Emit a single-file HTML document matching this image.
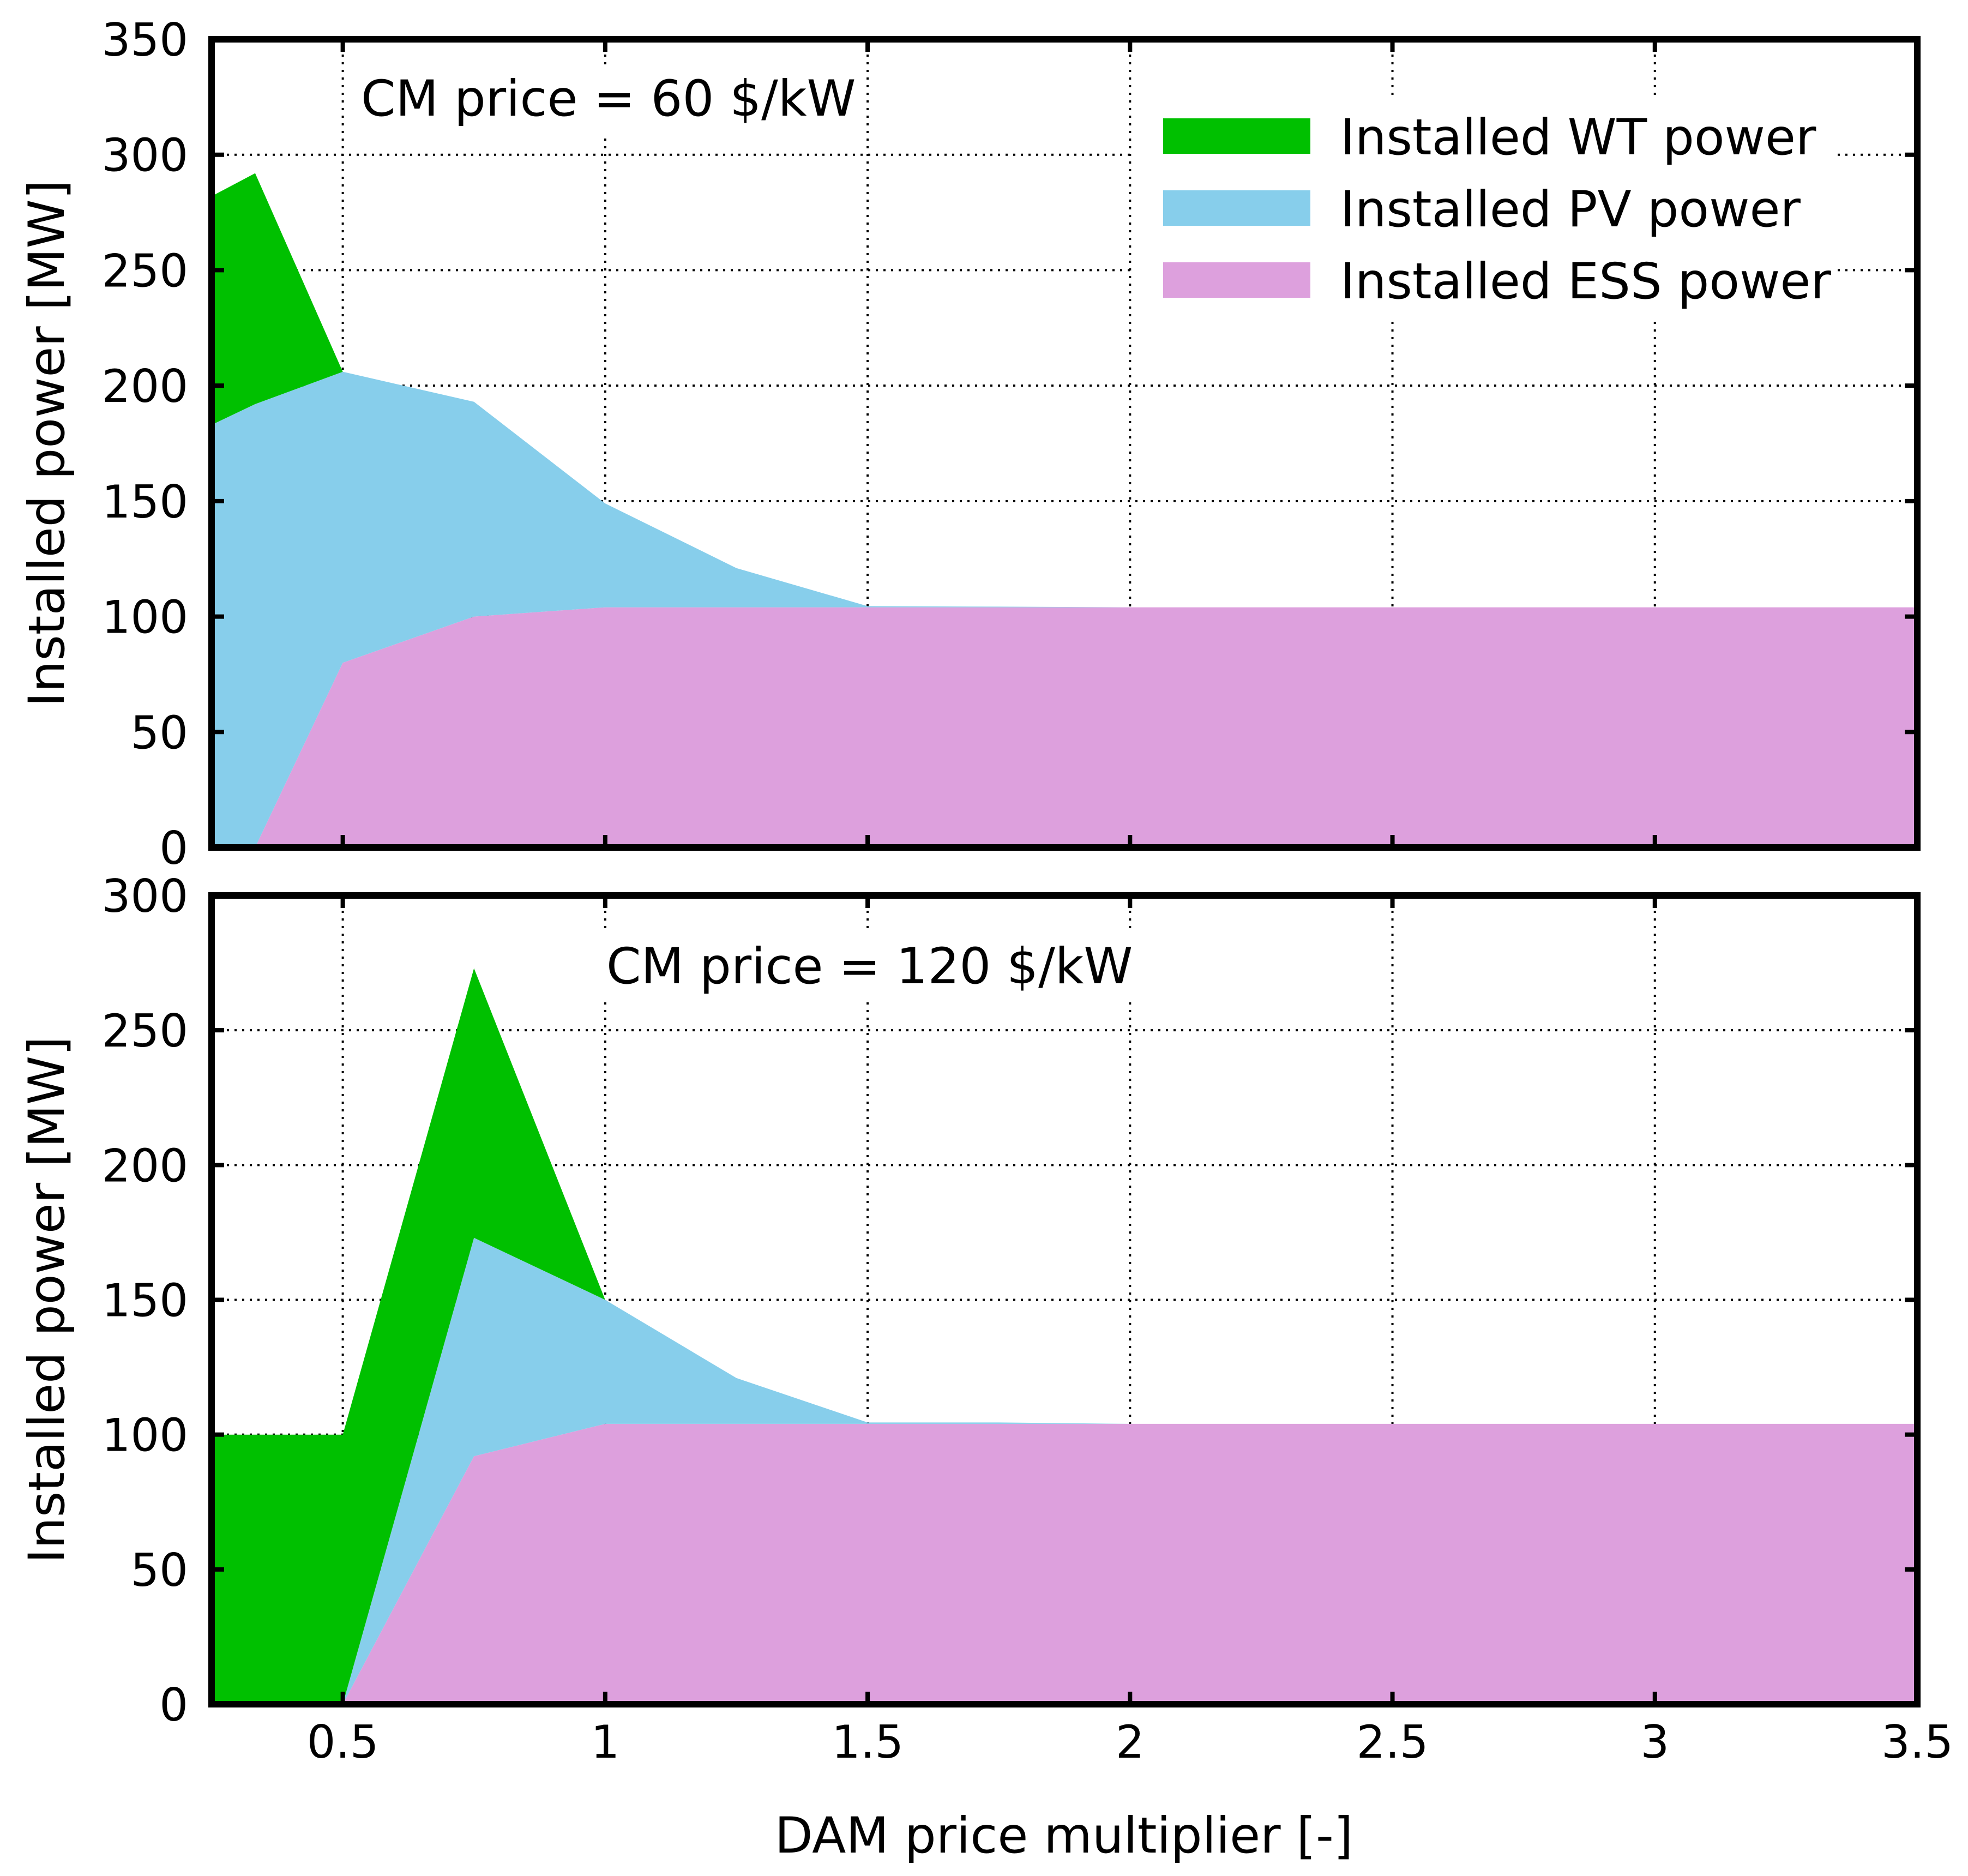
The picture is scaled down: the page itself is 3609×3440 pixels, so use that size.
<!DOCTYPE html>
<html><head><meta charset="utf-8"><style>
html,body{margin:0;padding:0;background:#fff;}
svg{display:block;}
text{font-family:"DejaVu Sans","Liberation Sans",sans-serif;fill:#000;}
</style></head><body>
<svg id="chart" width="3609" height="3440" viewBox="0 0 3609 3440" xmlns="http://www.w3.org/2000/svg"></svg>
<script>
const xVals = [0.25, 0.333, 0.5, 0.75, 1.0, 1.25, 1.5, 1.75, 2.0, 2.25, 2.5, 2.75, 3.0, 3.25, 3.5];
const topWT  = [99, 100, 0, 0, 0, 0, 0, 0, 0, 0, 0, 0, 0, 0, 0];
const topPV  = [183, 192, 126, 93, 45, 17, 0.5, 0.3, 0, 0, 0, 0, 0, 0, 0];
const topESS = [0, 0, 80, 100, 104, 104, 104, 104, 104, 104, 104, 104, 104, 104, 104];
const botWT  = [100, 100, 100, 100, 0, 0, 0, 0, 0, 0, 0, 0, 0, 0, 0];
const botPV  = [0, 0, 0, 81, 46, 17, 0.5, 0.5, 0, 0, 0, 0, 0, 0, 0];
const botESS = [0, 0, 0, 92, 104, 104, 104, 104, 104, 104, 104, 104, 104, 104, 104];
const xTicks = [0.5, 1, 1.5, 2, 2.5, 3, 3.5];
const xTickLabels = ["0.5", "1", "1.5", "2", "2.5", "3", "3.5"];
const topYTicks = [0, 50, 100, 150, 200, 250, 300, 350];
const botYTicks = [0, 50, 100, 150, 200, 250, 300];

const NS = "http://www.w3.org/2000/svg";
const svg = document.getElementById('chart');
const L = 388, R = 3516;
function xs(v){ return L + (v - 0.25) / 3.25 * (R - L); }
function mk(tag, attrs, parent){
  const e = document.createElementNS(NS, tag);
  for (const k in attrs) e.setAttribute(k, attrs[k]);
  (parent || svg).appendChild(e);
  return e;
}
const C = {wt:"#00c000", pv:"#87ceeb", ess:"#dda0dd"};

function panel(name, top, bot, ymax, yTicks, wt, pv, ess, ann, annX, annBase, legend){
  const ys = v => bot - v / ymax * (bot - top);
  const g = mk('g', {});
  
  
  const grid = mk('g', {}, g);
  
  
  xTicks.forEach(t => {
    const l = mk('line', {x1:xs(t), x2:xs(t), y1:top, y2:bot, stroke:'#000', 'stroke-width':4, 'stroke-dasharray':'4,10'}, grid);
    
    
  });
  yTicks.forEach(t => {
    const l = mk('line', {x1:L, x2:R, y1:ys(t), y2:ys(t), stroke:'#000', 'stroke-width':4, 'stroke-dasharray':'4,10'}, grid);
    
    
  });
  const s1 = ess, s2 = ess.map((v,i)=>v+pv[i]), s3 = s2.map((v,i)=>v+wt[i]);
  function area(lo, hi, color, nm){
    let d = '';
    xVals.forEach((x,i)=>{ d += (i? 'L':'M') + xs(x).toFixed(1) + ',' + ys(hi[i]).toFixed(1); });
    for (let i = xVals.length-1; i >= 0; i--) d += 'L' + xs(xVals[i]).toFixed(1) + ',' + ys(lo ? lo[i] : 0).toFixed(1);
    const p = mk('path', {d: d + 'Z', fill: color}, g);
    
    
  }
  area(null, s1, C.ess, name + '-ess-area');
  area(s1, s2, C.pv, name + '-pv-area');
  area(s2, s3, C.wt, name + '-wt-area');
  const at = mk('text', {x: annX, y: annBase, 'font-size': 91}, g);
  at.textContent = ann;
  
  
  const bb = at.getBBox();
  const ar = mk('rect', {x: bb.x - 14, y: bb.y - 10, width: bb.width + 28, height: bb.height + 20, fill: '#fff'}, g);
  
  
  g.insertBefore(ar, at);
  if (legend){
    const lg = mk('g', {}, g);
    
    
    const bg = mk('rect', {x: 2082, y: 184, width: 1284, height: 400, fill: '#fff'}, lg);
    
    
    const items = [["Installed WT power", C.wt], ["Installed PV power", C.pv], ["Installed ESS power", C.ess]];
    items.forEach((it, i) => {
      const y0 = 217 + i * 132;
      const r = mk('rect', {x: 2133, y: y0, width: 270, height: 65, fill: it[1]}, lg);
      
      
      const t = mk('text', {x: 2458, y: y0 + 66, 'font-size': 91}, lg);
      t.textContent = it[0];
      
      
    });
  }
  xTicks.forEach(t => {
    mk('line', {x1:xs(t), x2:xs(t), y1:bot, y2:bot-23, stroke:'#000', 'stroke-width':8}, g);
    mk('line', {x1:xs(t), x2:xs(t), y1:top, y2:top+23, stroke:'#000', 'stroke-width':8}, g);
  });
  yTicks.forEach(t => {
    mk('line', {x1:L, x2:L+23, y1:ys(t), y2:ys(t), stroke:'#000', 'stroke-width':8}, g);
    mk('line', {x1:R, x2:R-23, y1:ys(t), y2:ys(t), stroke:'#000', 'stroke-width':8}, g);
    const tl = mk('text', {x: 345, y: ys(t) + 30, 'font-size': 83, 'text-anchor': 'end'}, g);
    tl.textContent = String(t);
    
    
  });
  const fr = mk('rect', {x: L, y: top, width: R - L, height: bot - top, fill: 'none', stroke: '#000', 'stroke-width': 12}, g);
  
  
  const cy = (top + bot) / 2;
  const yl = mk('text', {x: 92, y: cy, 'font-size': 91, 'text-anchor': 'middle', transform: 'rotate(-90 92 ' + cy + ')', 'dominant-baseline': 'middle'}, g);
  yl.textContent = 'Installed power [MW]';
  
  
}

panel('top-panel', 72, 1554, 350, topYTicks, topWT, topPV, topESS, 'CM price = 60 $/kW', 662, 212, true);
panel('bottom-panel', 1642, 3125, 300, botYTicks, botWT, botPV, botESS, 'CM price = 120 $/kW', 1112, 1803, false);

xTicks.forEach((t, i) => {
  const tl = mk('text', {x: xs(t), y: 3223, 'font-size': 83, 'text-anchor': 'middle'});
  tl.textContent = xTickLabels[i];
  
  
});
const xl = mk('text', {x: 1951, y: 3397, 'font-size': 91, 'text-anchor': 'middle'});
xl.textContent = 'DAM price multiplier [-]';


</script>
</body></html>
